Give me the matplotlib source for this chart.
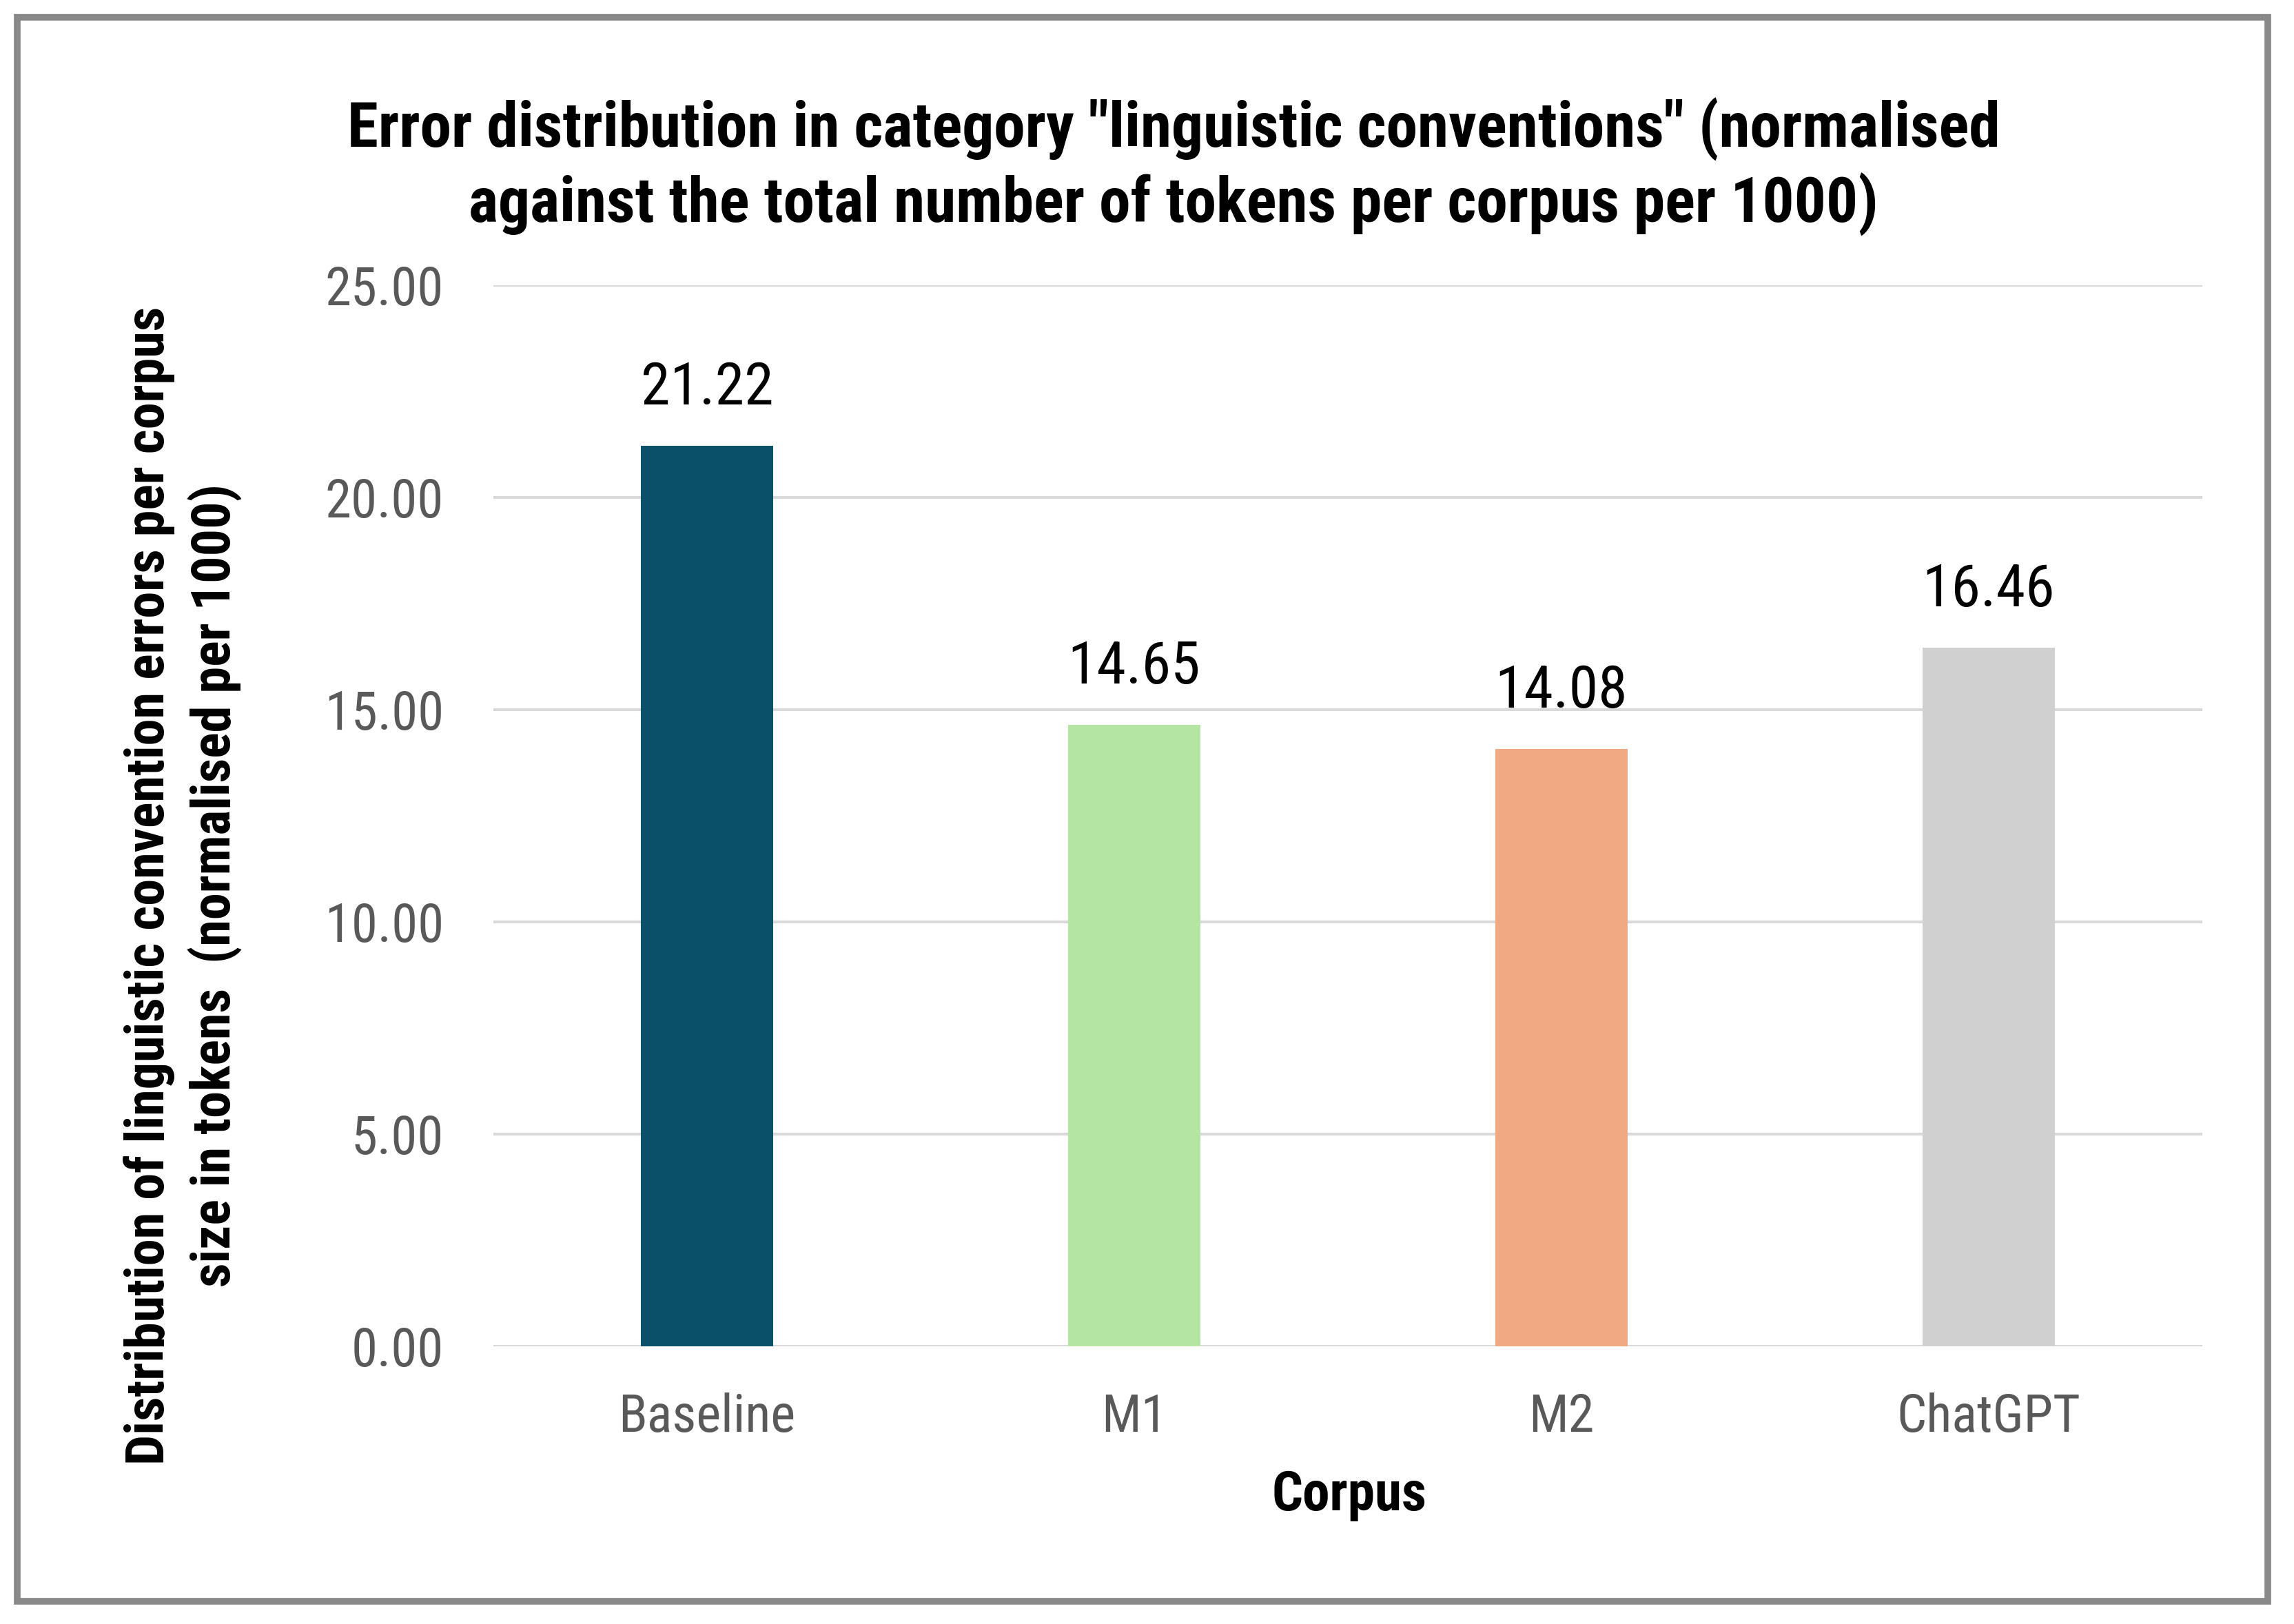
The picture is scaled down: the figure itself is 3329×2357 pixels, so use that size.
import matplotlib
matplotlib.use("Agg")
import matplotlib.pyplot as plt
from matplotlib import font_manager
from matplotlib.patches import Rectangle

# data
corpora = ["Baseline", "M1", "M2", "ChatGPT"]
error_rates = [21.22, 14.65, 14.08, 16.46]
bar_colors = ["#0B5069", "#B4E5A2", "#F1A983", "#D0D0D0"]
y_ticks = [0, 5, 10, 15, 20, 25]

title_lines = ['Error distribution in category "linguistic conventions" (normalised',
               'against the total number of tokens per corpus per 1000)']
y_title_lines = ["Distribution of linguistic convention errors per corpus",
                 "size in tokens  (normalised per 1000)"]
x_title = "Corpus"

# narrow font, Excel uses Aptos Narrow
cands = ["Roboto Condensed", "IBM Plex Sans Condensed", "Fira Sans Condensed",
         "Archivo Narrow", "PT Sans Narrow", "Liberation Sans Narrow",
         "Open Sans Condensed", "Encode Sans Condensed", "Asap Condensed",
         "Barlow Semi Condensed", "Liberation Sans"]

def weights(name):
    out = []
    for f in font_manager.fontManager.ttflist:
        if f.name == name and f.style == "normal":
            w = f.weight
            if isinstance(w, str):
                w = 700 if w == "bold" else 400
            out.append(w)
    return out

def pick(bold):
    for c in cands:
        ws = weights(c)
        if bold and any(w >= 600 for w in ws):
            return c
        if not bold and any(350 <= w <= 450 for w in ws):
            return c
    return "DejaVu Sans"

reg_font = pick(False)
bold_font = pick(True)
plt.rcParams['font.family'] = [reg_font, "DejaVu Sans"]

W, H = 3330, 2357
fig = plt.figure(figsize=(W / 100, H / 100), dpi=100)
renderer = fig.canvas.get_renderer()

def fx(px):
    return px / W

def fy(py):
    return 1 - py / H

def fit(s, target, **kw):
    t = fig.text(0, 0, s, fontsize=50, **kw)
    w = t.get_window_extent(renderer).width
    t.remove()
    return 50 * target / w

bold_kw = dict(family=[bold_font, "DejaVu Sans"], fontweight="bold")
title_fs = fit(title_lines[0], 2404, **bold_kw)
ylab_fs = fit(y_title_lines[0], 1682, **bold_kw)
xlab_fs = fit(x_title, 225, **bold_kw)
ytick_fs = fit("25.00", 172)
xtick_fs = fit("Baseline", 257)
val_fs = fit("21.22", 193)

# plot area
left, right, top, bottom = 716, 3196, 414, 1954
ax = fig.add_axes([fx(left), fy(bottom), fx(right) - fx(left), fy(top) - fy(bottom)])

x = range(len(corpora))
bars = ax.bar(x, error_rates, width=0.31, color=bar_colors, zorder=3)
for b, v in zip(bars, error_rates):
    ax.annotate(f"{v:.2f}", (b.get_x() + b.get_width() / 2, v),
                xytext=(0, 60), textcoords="offset pixels",
                ha="center", va="baseline", fontsize=val_fs, color="black")

ax.set_xlim(-0.5, 3.5)
ax.set_ylim(0, 25)
ax.set_yticks(y_ticks)
ax.set_yticklabels([f"{t:.2f}" for t in y_ticks])
ax.set_xticks(list(x))
ax.set_xticklabels(corpora)
ax.tick_params(axis="both", length=0, labelcolor="#595959")
ax.tick_params(axis="y", labelsize=ytick_fs, pad=52)
ax.tick_params(axis="x", labelsize=xtick_fs, pad=48)
ax.grid(axis="y", color="#D9D9D9", linewidth=3, zorder=0)
for s in ax.spines.values():
    s.set_visible(False)

# titles
for line, yb in zip(title_lines, [214, 323]):
    fig.text(fx(1703), fy(yb), line, ha="center", va="baseline",
             fontsize=title_fs, **bold_kw)
for line, xc in zip(y_title_lines, [217, 312]):
    fig.text(fx(xc), fy(1285), line, ha="center", va="center", rotation=90,
             fontsize=ylab_fs, **bold_kw)
fig.text(fx(1958), fy(2170), x_title, ha="center", va="center",
         fontsize=xlab_fs, **bold_kw)

# outer frame
fig.patches.append(Rectangle((fx(25), fy(2324)), fx(3291) - fx(25), fy(25) - fy(2324),
                             transform=fig.transFigure, fill=False,
                             edgecolor="#898989", linewidth=7))

fig.savefig("out.png", dpi=100, facecolor="white")
